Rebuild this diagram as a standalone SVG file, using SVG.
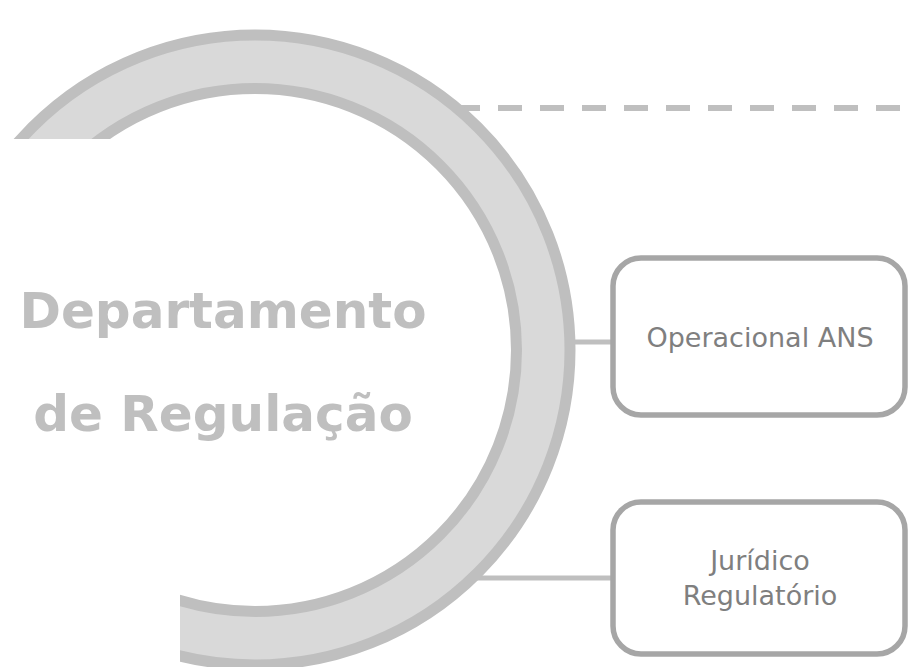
<svg xmlns="http://www.w3.org/2000/svg" width="908" height="667" viewBox="0 0 908 667">
  <style>
    .conn { stroke: #BFBFBF; stroke-width: 5; fill: none; }
    .dash { stroke: #BFBFBF; stroke-width: 6; fill: none; stroke-dasharray: 24 18; }
    .ring { fill: #D9D9D9; stroke: #BFBFBF; stroke-width: 11; fill-rule: evenodd; }
    .box { fill: #FFFFFF; stroke: #A6A6A6; stroke-width: 5.5; }
    .title { font-family: "DejaVu Sans", Verdana, sans-serif; font-weight: bold; font-size: 50px; fill: #BFBFBF; text-anchor: middle; }
    .label { font-family: "DejaVu Sans", Verdana, sans-serif; font-size: 27px; fill: #7F7F7F; text-anchor: middle; }
  </style>
  <defs>
    <clipPath id="ringClip">
      <path d="M0,0 H908 V667 H180 V139 H0 Z"/>
    </clipPath>
  </defs>
  <rect width="908" height="667" fill="#FFFFFF"/>
  <g id="connectors">
    <line class="dash" x1="456" y1="108" x2="908" y2="108"/>
    <line class="conn" x1="560" y1="342" x2="613" y2="342"/>
    <line class="conn" x1="470" y1="578" x2="613" y2="578"/>
  </g>
  <g id="main">
    <path class="ring" clip-path="url(#ringClip)" d="M570,350 A315,315 0 1 0 -60,350 A315,315 0 1 0 570,350 Z M516.5,350 A261.5,261.5 0 1 0 -6.5,350 A261.5,261.5 0 1 0 516.5,350 Z"/>
    <text class="title" x="223" y="328">Departamento</text>
    <text class="title" x="223" y="431">de Regulação</text>
  </g>
  <g id="node-operacional">
    <rect class="box" x="613" y="258" width="292" height="157" rx="28" ry="28"/>
    <text class="label" x="760" y="347">Operacional ANS</text>
  </g>
  <g id="node-juridico">
    <rect class="box" x="613" y="502" width="292" height="152" rx="28" ry="28"/>
    <text class="label" x="760" y="570">Jurídico</text>
    <text class="label" x="760" y="605">Regulatório</text>
  </g>
</svg>
